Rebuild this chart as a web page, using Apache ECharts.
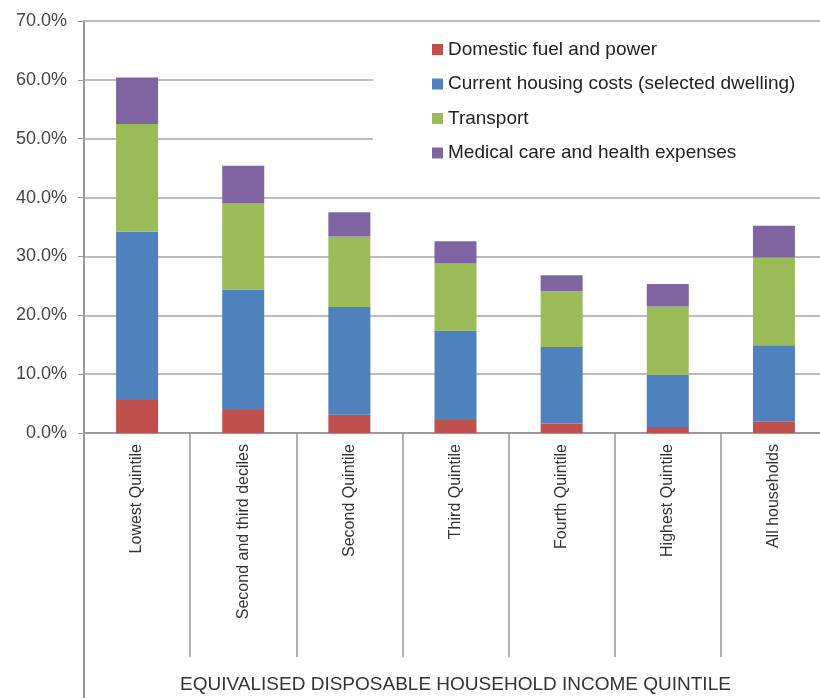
<!DOCTYPE html>
<html>
<head>
<meta charset="utf-8">
<script src="https://cdn.jsdelivr.net/npm/echarts@6/dist/echarts.min.js"></script>
<style>html,body{margin:0;padding:0;background:#fff;}#c{width:820px;height:698px;}</style>
</head>
<body>
<div id="c"></div>
<script>
var categories = ["Lowest Quintile","Second and third deciles","Second Quintile","Third Quintile","Fourth Quintile","Highest Quintile","All households"];
var seriesNames = ["Domestic fuel and power","Current housing costs (selected dwelling)","Transport","Medical care and health expenses"];
var fuel = [5.6, 3.9, 3.1, 2.2, 1.6, 1.0, 1.9];
var housing = [28.6, 20.5, 18.3, 15.2, 13.0, 8.9, 13.0];
var transport = [18.3, 14.6, 12.0, 11.4, 9.5, 11.6, 14.9];
var medical = [7.9, 6.4, 4.1, 3.8, 2.7, 3.8, 5.4];
var colors = ["#C0504D","#4F81BD","#9BBB59","#8064A2"];
var yTicks = [0,10,20,30,40,50,60,70];
var xAxisTitle = "EQUIVALISED DISPOSABLE HOUSEHOLD INCOME QUINTILE";

var font = "'Liberation Sans', Arial, sans-serif";
var chart = echarts.init(document.getElementById('c'));
var values = [fuel, housing, transport, medical];
var series = seriesNames.map(function(n,i){
  return {name:n, type:'bar', stack:'total', data:values[i], barWidth:42,
    itemStyle:{color:colors[i]}, emphasis:{disabled:true}};
});
chart.setOption({
  animation:false,
  textStyle:{fontFamily:font},
  grid:{left:84, top:21, width:743, height:412, containLabel:false, outerBoundsMode:'none'},
  legend:{
    orient:'vertical', left:373, top:22,
    padding:[18,120,33,59], backgroundColor:'#fff',
    itemWidth:11, itemHeight:11, itemGap:15.5,
    icon:'rect',
    textStyle:{fontSize:19, color:'#222', fontFamily:font},
    data:seriesNames
  },
  xAxis:{
    type:'category', data:categories,
    axisLine:{show:true, lineStyle:{color:'#999', width:2}},
    axisTick:{show:true, length:224, lineStyle:{color:'#999', width:1.5}},
    axisLabel:{rotate:90, fontSize:16, color:'#333', margin:11, fontFamily:font},
    name:xAxisTitle, nameLocation:'middle', nameGap:242,
    nameTextStyle:{fontSize:19, color:'#333', fontFamily:font, verticalAlign:'top'}
  },
  yAxis:{
    type:'value', min:yTicks[0], max:yTicks[yTicks.length-1], interval:10,
    axisLine:{show:true, lineStyle:{color:'#999', width:2}},
    axisTick:{show:true, length:6, lineStyle:{color:'#999'}},
    axisLabel:{fontSize:18, color:'#444', margin:17, fontFamily:font,
      formatter:function(v){return v.toFixed(1)+'%';}},
    splitLine:{lineStyle:{color:'#a6a6a6', width:1.5}}
  },
  series:series
});
// extend the value axis line down through the category label area
var p0 = chart.convertToPixel({gridIndex:0}, [0, 0]);
var gx = chart.getModel().getComponent('grid').coordinateSystem.getRect().x;
chart.setOption({graphic:[{type:'line', shape:{x1:gx, y1:p0[1], x2:gx, y2:698}, style:{stroke:'#999', lineWidth:2}, silent:true}]});
</script>
</body>
</html>
